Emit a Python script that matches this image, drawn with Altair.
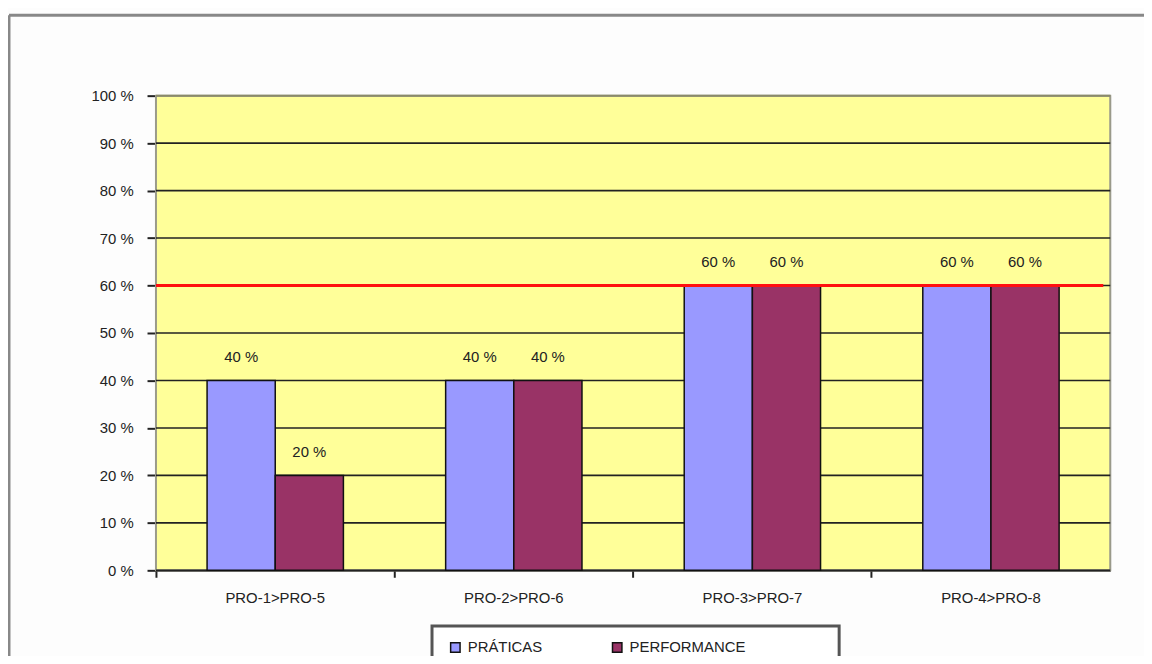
import altair as alt
import pandas as pd

categories = ["PRO-1>PRO-5", "PRO-2>PRO-6", "PRO-3>PRO-7", "PRO-4>PRO-8"]
series = ["PRÁTICAS", "PERFORMANCE"]
praticas = [40, 40, 60, 60]
performance = [20, 40, 60, 60]
meta = [60]
y_ticks = [0, 10, 20, 30, 40, 50, 60, 70, 80, 90, 100]
colors = ["#9999FF", "#993366"]

rows = []
for c, a, b in zip(categories, praticas, performance):
    rows.append({"cat": c, "serie": series[0], "val": a})
    rows.append({"cat": c, "serie": series[1], "val": b})
df = pd.DataFrame(rows)

W, H = 961, 478
FONT = "Liberation Sans"
FS = 15

yscale = alt.Scale(domain=[0, 100], nice=False)

x_enc = alt.X("cat:N", sort=categories, title=None,
              scale=alt.Scale(paddingInner=0, paddingOuter=0),
              axis=alt.Axis(labelAngle=0, bandPosition=0, tickSize=7, tickWidth=2,
                            tickColor="#222", domainColor="#222", domainWidth=2,
                            labelPadding=13, labelFontSize=FS, labelColor="#222",
                            grid=False))
xoff = alt.XOffset("serie:N", sort=series,
                   scale=alt.Scale(paddingOuter=0.75, paddingInner=0))
y_enc = alt.Y("val:Q", title=None, scale=yscale,
              axis=alt.Axis(values=y_ticks, labelExpr="datum.value + ' %'",
                            tickSize=9, tickWidth=2, tickColor="#222",
                            domainColor="#222", domainWidth=2,
                            labelPadding=14, labelFontSize=FS, labelColor="#222",
                            grid=False))
color_enc = alt.Color("serie:N", sort=series,
                      scale=alt.Scale(domain=series, range=colors),
                      legend=alt.Legend(title=None, orient="none", direction="horizontal",
                                        legendX=280, legendY=534, padding=14,
                                        symbolType="square", symbolSize=90,
                                        symbolStrokeColor="#111", symbolStrokeWidth=1.5,
                                        symbolOpacity=1,
                                        labelFontSize=FS, labelColor="#222",
                                        columnPadding=66, labelOffset=5))

base = alt.Chart(df)
bars = base.mark_bar(stroke="#111", strokeWidth=1.5, opacity=1).encode(
    x=x_enc, xOffset=xoff, y=y_enc, color=color_enc)
labels = base.mark_text(baseline="bottom", dy=-16, fontSize=FS, color="#222", font=FONT).encode(
    x=alt.X("cat:N", sort=categories), xOffset=alt.XOffset("serie:N", sort=series),
    y="val:Q", text=alt.Text("label:N")).transform_calculate(label="datum.val + ' %'")

grid_df = pd.DataFrame({"g": y_ticks[:-1]})
gridlines = alt.Chart(grid_df).mark_rule(color="#222", strokeWidth=1.6).encode(
    y=alt.Y("g:Q", scale=yscale))
top_df = pd.DataFrame({"g": y_ticks[-1:]})
gridtop = alt.Chart(top_df).mark_rule(color="#8a8a6a", strokeWidth=2).encode(
    y=alt.Y("g:Q", scale=yscale))

meta_df = pd.DataFrame({"meta": meta})
meta_rule = alt.Chart(meta_df).mark_rule(color="#FF1010", strokeWidth=3).encode(
    y=alt.Y("meta:Q", scale=yscale), x=alt.value(0), x2=alt.value(W - 7))

one = pd.DataFrame({"a": [0]})
plot_bg = alt.Chart(one).mark_rect(fill="#FFFF99", stroke="#9a9a8a", strokeWidth=2).encode(
    x=alt.value(0), x2=alt.value(W), y=alt.value(0), y2=alt.value(H))
frame_top = alt.Chart(one).mark_rule(color="#888", strokeWidth=3).encode(
    x=alt.value(-148), x2=alt.value(W + 42), y=alt.value(-81))
frame_left = alt.Chart(one).mark_rule(color="#888", strokeWidth=3).encode(
    x=alt.value(-148), y=alt.value(-81), y2=alt.value(H + 100))
legend_box = alt.Chart(one).mark_rect(fill="white", stroke="#555", strokeWidth=3).encode(
    x=alt.value(278), x2=alt.value(688), y=alt.value(534), y2=alt.value(H + 120))

chart = alt.layer(plot_bg, gridlines, gridtop, frame_top, frame_left, legend_box,
                  bars, meta_rule, labels).properties(
    width=W, height=H,
    autosize=alt.AutoSizeParams(type="none"),
    padding={"left": 149, "top": 86, "right": 34, "bottom": 84},
    background="#FDFDFD",
).configure_view(
    stroke=None
).configure(font=FONT)

chart.save("out.html", embed_options={"renderer": "svg", "actions": False})
